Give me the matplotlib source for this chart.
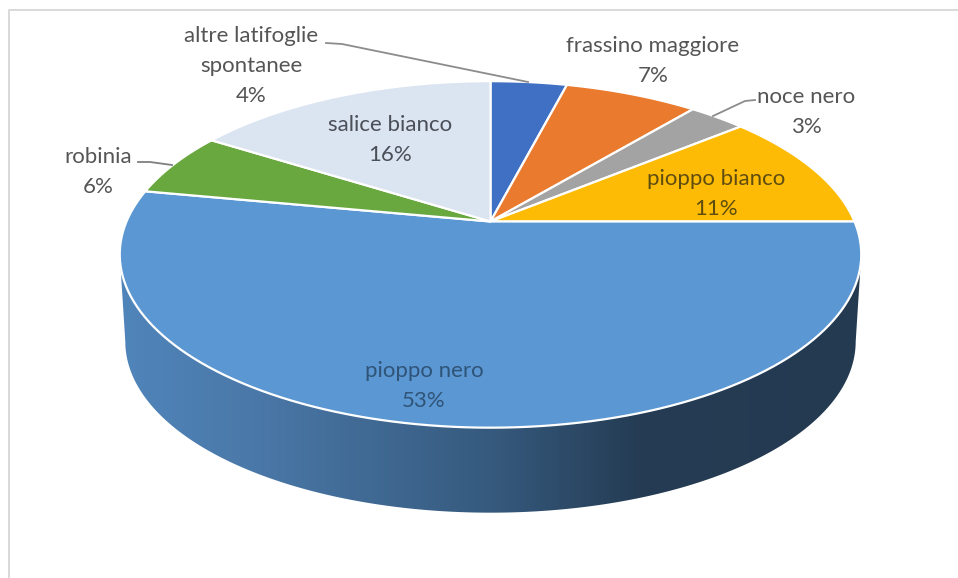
import numpy as np
import matplotlib
matplotlib.use("Agg")
import matplotlib.pyplot as plt
from matplotlib.colors import LinearSegmentedColormap
from matplotlib.patches import Polygon

# slices clockwise from twelve o'clock
species = ['altre latifoglie\nspontanee', 'frassino maggiore', 'noce nero', 'pioppo bianco',
           'pioppo nero', 'robinia', 'salice bianco']
shares = [4, 7, 3, 11, 53, 6, 16]
slice_colors = ['#4070c4', '#e97a2e', '#a3a3a3', '#fdbb05', '#5b97d2', '#69a83f', '#dbe4f1']
text_colors = ['#555555', '#555555', '#555555', '#5f4d10', '#2f5478', '#555555', '#4a4f58']
label_x = [251, 653, 806, 716, 424, 98, 390]
label_y = [66, 61, 112, 194, 386, 172, 140]

# pie geometry in pixels
cx, cy = 490.5, 221.5
rx, ry = 364, 167
tilt = 0.19
depth = 87


def project(theta):
    # theta in degrees clockwise from the top of the disc
    t = np.radians(theta)
    u, v = np.sin(t), np.cos(t)
    w = 1 + tilt * v
    return cx + rx * u / w, cy - ry * v / w


def rim_outline():
    # lower half of the rim, top edge then bottom edge
    t = np.linspace(0, 360, 1441)
    x, y = project(t)
    left, right = np.argmin(x), np.argmax(x)
    t_low = np.linspace(t[right], t[left], 300)
    x1, y1 = project(t_low)
    x2 = cx + (x1 - cx) * 0.985
    y2 = y1 + depth - (1 - (x1 - cx) ** 2 / (x1 - cx).max() ** 2) * 2.0
    return np.r_[x1, x2[::-1]], np.r_[y1, y2[::-1]]


fig = plt.figure(figsize=(9.58, 5.78), dpi=100)
ax = fig.add_axes([0, 0, 1, 1])

# rim of the biggest slice, shaded from left to right
side_x, side_y = rim_outline()
rim_cmap = LinearSegmentedColormap.from_list('rim', [
    (0.0, '#5085bb'), (0.18, '#4a78a8'), (0.5, '#365a7e'), (0.7, '#253c54'), (1.0, '#243a51')])
img = ax.imshow(np.linspace(0, 1, 256).reshape(1, -1), cmap=rim_cmap, aspect='auto',
                extent=[side_x.min(), side_x.max(), side_y.max(), side_y.min()], zorder=1)
img.set_clip_path(Polygon(np.c_[side_x, side_y], transform=ax.transData))

# top face
edges = np.r_[0, np.cumsum(shares)] / np.sum(shares) * 360
for i in range(len(shares)):
    t = np.linspace(edges[i], edges[i + 1], 120)
    x, y = project(t)
    ax.fill(np.r_[cx, x], np.r_[cy, y], facecolor=slice_colors[i], edgecolor='white',
            linewidth=1.6, joinstyle='round', zorder=2)

# leader lines
ax.plot([326, 342, 528], [43, 44, 82], color='#8c8c8c', lw=1.3, zorder=3)
ax.plot([755, 745, 713], [100, 101, 116], color='#8c8c8c', lw=1.3, zorder=3)
ax.plot([138, 150, 172], [162, 162, 165], color='#7f7f7f', lw=1.3, zorder=3)

# labels
for i in range(len(shares)):
    ax.text(label_x[i], label_y[i], '%s\n%d%%' % (species[i], shares[i]), ha='center', va='center',
            family='Lato', fontsize=16, color=text_colors[i], linespacing=1.6, zorder=4)

# chart area border, only top and left are in frame
ax.plot([9, 9, 958], [578, 9.5, 9.5], color='#d9d9d9', lw=1.4, zorder=0)

ax.set_xlim(0, 958)
ax.set_ylim(578, 0)
ax.axis('off')
fig.savefig('out.png', dpi=100)
